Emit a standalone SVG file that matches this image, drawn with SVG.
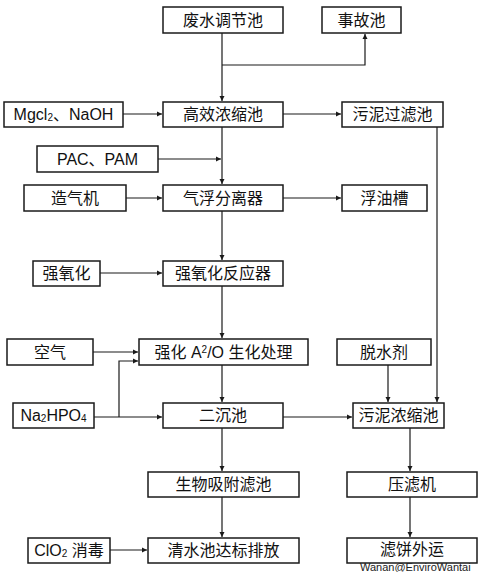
<svg xmlns="http://www.w3.org/2000/svg" width="485" height="572" viewBox="0 0 485 572">
<style>
.b{fill:#fff;stroke:#1a1a1a;stroke-width:1.5}
.t{font-family:"Liberation Sans","Noto Sans CJK SC",sans-serif;font-size:16px;fill:#111;text-anchor:middle}
.c{fill:none;stroke:#1a1a1a;stroke-width:1.2}
.s{font-size:10px}
</style>
<defs>
<marker id="a" markerWidth="6" markerHeight="6" refX="5" refY="3" orient="auto" markerUnits="userSpaceOnUse">
<path d="M0,0.5 L5,3 L0,5.5 Z" fill="#1a1a1a"/>
</marker>
</defs>
<rect width="485" height="572" fill="#fff"/>
<g id="connectors">
<path class="c" d="M222,33 V101" marker-end="url(#a)"/>
<path class="c" d="M222,65 H365 V34" marker-end="url(#a)"/>
<path class="c" d="M123,114 H162" marker-end="url(#a)"/>
<path class="c" d="M283,114 H341" marker-end="url(#a)"/>
<path class="c" d="M222,127 V184" marker-end="url(#a)"/>
<path class="c" d="M158,159 H221" marker-end="url(#a)"/>
<path class="c" d="M126,198 H162" marker-end="url(#a)"/>
<path class="c" d="M283,198 H341" marker-end="url(#a)"/>
<path class="c" d="M222,211 V260" marker-end="url(#a)"/>
<path class="c" d="M100,273 H162" marker-end="url(#a)"/>
<path class="c" d="M222,286 V338" marker-end="url(#a)"/>
<path class="c" d="M93,352 H138" marker-end="url(#a)"/>
<path class="c" d="M119,417 V361 H138" marker-end="url(#a)"/>
<path class="c" d="M94,417 H162" marker-end="url(#a)"/>
<path class="c" d="M222,365 V402" marker-end="url(#a)"/>
<path class="c" d="M283,417 H352" marker-end="url(#a)"/>
<path class="c" d="M388,365 V402" marker-end="url(#a)"/>
<path class="c" d="M437,127 V402" marker-end="url(#a)"/>
<path class="c" d="M222,428 V471" marker-end="url(#a)"/>
<path class="c" d="M410,428 V471" marker-end="url(#a)"/>
<path class="c" d="M222,497 V537" marker-end="url(#a)"/>
<path class="c" d="M410,497 V537" marker-end="url(#a)"/>
<path class="c" d="M110,550 H147" marker-end="url(#a)"/>
</g>
<g id="n1"><rect class="b" x="163" y="7" width="120" height="26"/><text class="t" x="223" y="26">废水调节池</text></g>
<g id="n2"><rect class="b" x="322" y="7" width="79" height="26"/><text class="t" x="361.5" y="26">事故池</text></g>
<g id="n3"><rect class="b" x="4" y="102" width="119" height="25"/><text class="t" x="63.5" y="120">Mgcl<tspan class="s" dy="1">2</tspan><tspan dy="-1">、NaOH</tspan></text></g>
<g id="n4"><rect class="b" x="163" y="102" width="120" height="25"/><text class="t" x="223" y="120">高效浓缩池</text></g>
<g id="n5"><rect class="b" x="342" y="102" width="101" height="25"/><text class="t" x="392.5" y="120">污泥过滤池</text></g>
<g id="n6"><rect class="b" x="37" y="146" width="121" height="26"/><text class="t" x="97.5" y="165">PAC、PAM</text></g>
<g id="n7"><rect class="b" x="24" y="185" width="102" height="26"/><text class="t" x="75" y="204">造气机</text></g>
<g id="n8"><rect class="b" x="163" y="185" width="120" height="26"/><text class="t" x="223" y="204">气浮分离器</text></g>
<g id="n9"><rect class="b" x="342" y="185" width="85" height="26"/><text class="t" x="384.5" y="204">浮油槽</text></g>
<g id="n10"><rect class="b" x="33" y="261" width="67" height="25"/><text class="t" x="66.5" y="279">强氧化</text></g>
<g id="n11"><rect class="b" x="163" y="261" width="120" height="25"/><text class="t" x="223" y="279">强氧化反应器</text></g>
<g id="n12"><rect class="b" x="7" y="339" width="86" height="26"/><text class="t" x="50" y="358">空气</text></g>
<g id="n13"><rect class="b" x="139" y="339" width="169" height="26"/><text class="t" x="223.5" y="358">强化 A<tspan class="s" dy="-5">2</tspan><tspan dy="5">/O 生化处理</tspan></text></g>
<g id="n14"><rect class="b" x="337" y="339" width="94" height="26"/><text class="t" x="384" y="358">脱水剂</text></g>
<g id="n15"><rect class="b" x="13" y="403" width="81" height="25"/><text class="t" x="53.5" y="421">Na<tspan class="s" dy="1">2</tspan><tspan dy="-1">HPO</tspan><tspan class="s" dy="1">4</tspan></text></g>
<g id="n16"><rect class="b" x="163" y="403" width="120" height="25"/><text class="t" x="223" y="421">二沉池</text></g>
<g id="n17"><rect class="b" x="353" y="403" width="91" height="25"/><text class="t" x="398.5" y="421">污泥浓缩池</text></g>
<g id="n18"><rect class="b" x="148" y="472" width="151" height="25"/><text class="t" x="223.5" y="490">生物吸附滤池</text></g>
<g id="n19"><rect class="b" x="347" y="472" width="130" height="25"/><text class="t" x="412" y="490">压滤机</text></g>
<g id="n20"><rect class="b" x="28" y="538" width="82" height="25"/><text class="t" x="69" y="556">ClO<tspan class="s" dy="1">2</tspan><tspan dy="-1"> 消毒</tspan></text></g>
<g id="n21"><rect class="b" x="148" y="538" width="151" height="25"/><text class="t" x="223.5" y="556">清水池达标排放</text></g>
<g id="n22"><rect class="b" x="347" y="538" width="130" height="25"/><text class="t" x="412" y="555">滤饼外运</text></g>
<text x="360" y="570.5" font-family="Liberation Sans,sans-serif" font-size="11" fill="#222">Wanan@EnviroWantai</text>
</svg>
